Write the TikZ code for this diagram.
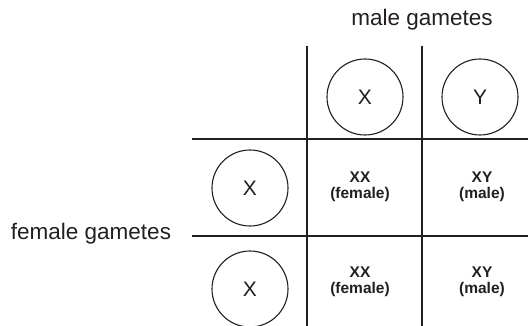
\documentclass[tikz,border=0pt]{standalone}
\usepackage{fontspec}
\setmainfont{Liberation Sans}
\definecolor{ink}{HTML}{231F20}
\begin{document}
\begin{tikzpicture}[x=1pt,y=-1pt,
  gam/.style={circle,draw=ink,line width=1.1pt,minimum size=76pt,inner sep=0pt,text=ink,font=\fontsize{21}{24}\selectfont},
  lbl/.style={text=ink,font=\fontsize{22.5}{26}\selectfont,inner sep=0pt},
  cell/.style={text=ink,align=center,font=\fontsize{15.5}{15.5}\selectfont\bfseries,inner sep=0pt},
  grid/.style={draw=ink,line width=1.3pt}]
\useasboundingbox (0,0) rectangle (528,326);
% grid lines
\coordinate (v1t) at (307,46); \coordinate (v1b) at (307,326);
\coordinate (v2t) at (422,46); \coordinate (v2b) at (422,326);
\coordinate (h1l) at (192,139); \coordinate (h1r) at (528,139);
\coordinate (h2l) at (192,236); \coordinate (h2r) at (528,236);
\draw[grid] (v1t) -- (v1b);
\draw[grid] (v2t) -- (v2b);
\draw[grid] (h1l) -- (h1r);
\draw[grid] (h2l) -- (h2r);
% labels
\node[lbl] (male) at (422,20) {male gametes};
\node[lbl] (female) at (91,234) {female gametes};
% gametes
\node[gam] (mx) at (365,97) {X};
\node[gam] (my) at (480,97) {Y};
\node[gam] (fx1) at (250,188) {X};
\node[gam] (fx2) at (250,289) {X};
% offspring
\node[cell] (c11) at (360,187) {XX\\(female)};
\node[cell] (c12) at (482,187) {XY\\(male)};
\node[cell] (c21) at (360,282) {XX\\(female)};
\node[cell] (c22) at (482,282) {XY\\(male)};
\end{tikzpicture}
\end{document}
